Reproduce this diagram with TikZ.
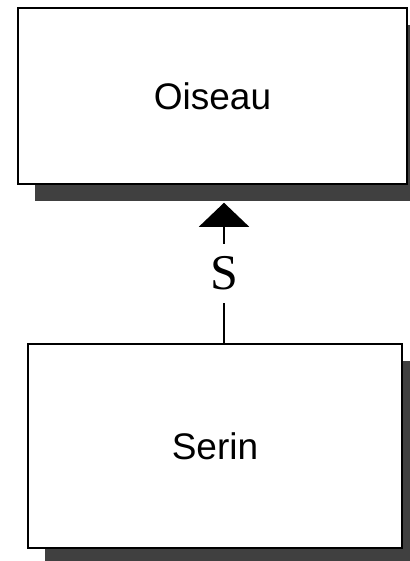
\documentclass[tikz,border=0pt]{standalone}
\usepackage{fontspec}
\setmainfont{Liberation Sans}
\newfontfamily\stereoFont{Liberation Serif}
\usetikzlibrary{positioning}
\usetikzlibrary{shadows}
\usetikzlibrary{arrows.meta}
\def\shadowColor{black!75}
\def\shadowOffset{17pt}
\tikzstyle{classbox}=[rectangle,draw=black,fill=white,line width=1.5pt,inner sep=0pt,font={\fontsize{37}{37}\selectfont},drop shadow={shadow xshift=\shadowOffset,shadow yshift=-\shadowOffset,fill=\shadowColor,opacity=1}]
\tikzstyle{inherit}=[-{Triangle[length=24pt,width=50pt]},line width=1.5pt,draw=black]
\tikzstyle{stereo}=[fill=white,inner sep=0pt,minimum height=59pt,font={\stereoFont\fontsize{50}{50}\selectfont}]

\begin{document}
\begin{tikzpicture}[x=1pt,y=1pt]
    \useasboundingbox (0,0) rectangle (409,-561);

    % classes
    \node[classbox,minimum width=389pt,minimum height=176pt] (oiseau) at (212.5,-96) {Oiseau};
    \node[classbox,minimum width=374pt,minimum height=204pt] (serin) at (215,-446) {Serin};

    % generalisation
    \draw[inherit] ([xshift=9pt]serin.north) -- node[stereo] (s-label) {S} ([xshift=11.5pt,yshift=-18pt]oiseau.south);
\end{tikzpicture}
\end{document}
